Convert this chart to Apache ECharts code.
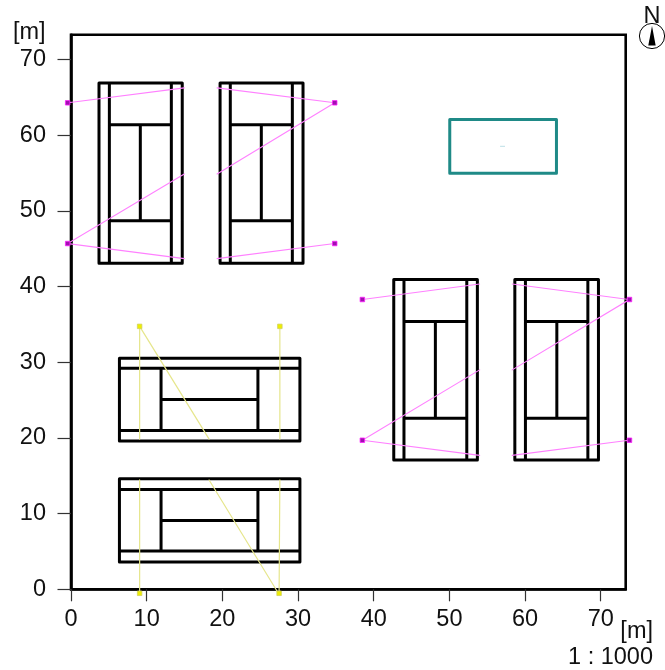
<!DOCTYPE html>
<html><head><meta charset="utf-8">
<style>html,body{margin:0;padding:0;background:#fff}#c{width:665px;height:670px}</style>
<script src="https://cdn.jsdelivr.net/npm/echarts@6/dist/echarts.min.js"></script>
</head><body><div id="c"></div>
<script>
const axisTicks = [0,10,20,30,40,50,60,70];
const axisMax = 73.3;
// vertical courts: xLeft, xSingleL, xCentre, xSingleR, xRight, yBottom, yServeLow, yServeHigh, yTop
const verticalCourts = [
  [3.7,5.07,9.16,13.26,14.7,43.1,48.7,61.4,66.9],
  [19.7,21.05,25.15,29.25,30.66,43.1,48.7,61.4,66.9],
  [42.65,44.0,48.15,52.3,53.7,17.1,22.6,35.4,40.95],
  [58.65,60.05,64.2,68.3,69.7,17.1,22.6,35.4,40.95]
];
// horizontal courts: xLeft, xServeL, xServeR, xRight, yBottom, ySingleLow, yCentre, ySingleHigh, yTop
const horizontalCourts = [
  [6.4,11.9,24.7,30.25,19.6,21.0,25.1,29.2,30.55],
  [6.4,11.9,24.7,30.25,3.6,5.05,9.1,13.2,14.6]
];
const tealBox = [[50.05,55.0],[64.15,55.0],[64.15,62.1],[50.05,62.1],[50.05,55.0]];
const tealDash = [[56.75,58.55],[57.3,58.55]];
const pinkRays = [
  [[-0.44,64.3],[14.97,66.27]], [[-0.44,45.7],[14.97,54.9]], [[-0.44,45.7],[14.97,43.7]],
  [[19.3,66.27],[34.85,64.3]], [[19.3,54.9],[34.85,64.3]], [[19.3,43.7],[34.85,45.7]],
  [[38.5,38.3],[54.0,40.35]], [[38.5,19.7],[54.0,29.0]], [[38.5,19.7],[54.0,17.7]],
  [[58.3,40.35],[73.8,38.3]], [[58.3,29.0],[73.8,38.3]], [[58.3,17.7],[73.8,19.7]]
];
const pinkPoints = [[-0.44,64.3],[-0.44,45.7],[34.85,64.3],[34.85,45.7],[38.5,38.3],[38.5,19.7],[73.8,38.3],[73.8,19.7]];
const yellowRays = [
  [[9.07,34.75],[9.07,19.85]], [[27.6,34.75],[27.6,19.85]], [[9.07,34.75],[18.25,19.85]],
  [[9.07,14.45],[9.07,-0.53]], [[27.6,14.45],[27.5,-0.53]], [[18.25,14.45],[27.4,-0.53]]
];
const yellowPoints = [[9.07,34.75],[27.6,34.75],[9.07,-0.53],[27.5,-0.53]];

const GAP = [NaN, NaN];
function join(paths){ const o=[]; paths.forEach(p=>{o.push(...p,GAP)}); return o; }
function rect(x0,y0,x1,y1){ return [[x0,y0],[x1,y0],[x1,y1],[x0,y1],[x0,y0]]; }
const courtPaths = [];
verticalCourts.forEach(([a,b,c,d,e,y0,y1,y2,y3])=>{
  courtPaths.push(rect(a,y0,e,y3),[[b,y0],[b,y3]],[[d,y0],[d,y3]],[[b,y1],[d,y1]],[[b,y2],[d,y2]],[[c,y1],[c,y2]]);
});
horizontalCourts.forEach(([a,b,c,d,y0,y1,y2,y3,y4])=>{
  courtPaths.push(rect(a,y0,d,y4),[[a,y1],[d,y1]],[[a,y3],[d,y3]],[[b,y1],[b,y3]],[[c,y1],[c,y3]],[[b,y2],[c,y2]]);
});
const FONT = '"Liberation Sans", Arial, sans-serif';
function lineSeries(data,color,width,z){
  return {type:'line',data,showSymbol:false,symbol:'none',clip:false,silent:true,z,connectNulls:false,
    lineStyle:{color,width,join:'round',cap:'round'},animation:false};
}
function pointSeries(data,color,border){
  return {type:'scatter',data,symbol:'rect',symbolSize:4.5,clip:false,silent:true,z:6,
    itemStyle:{color,borderColor:border,borderWidth:0.8,opacity:1},animation:false};
}
function axis(tickLen,labelMargin){
  return {type:'value',min:0,max:axisMax,splitLine:{show:false},
    axisLine:{show:true,onZero:false,lineStyle:{color:'#000',width:2.6}},
    axisTick:{show:true,customValues:axisTicks,length:tickLen,lineStyle:{color:'#333',width:1.2}},
    axisLabel:{customValues:axisTicks,fontFamily:FONT,fontSize:23.5,color:'#111',margin:labelMargin}};
}
const chart = echarts.init(document.getElementById('c'),null,{renderer:'canvas'});
const txt=(x,y,text,align)=>({type:'text',x,y,style:{text,font:'23.5px '+FONT,fill:'#111',align:align||'left',verticalAlign:'middle'},z:20});
chart.setOption({
  animation:false,backgroundColor:'#fff',
  grid:{left:71,top:34.7,width:554.7,height:554.6,show:true,borderColor:'#000',borderWidth:2.6,backgroundColor:'transparent',containLabel:false},
  xAxis:axis(12,18),yAxis:axis(13.5,25),
  series:[
    lineSeries(join(courtPaths),'#000',3,3),
    lineSeries(tealBox,'#1f8a87',3,3),
    lineSeries(tealDash,'#bcdfe6',1,3),
    lineSeries(join(pinkRays),'#ff80ff',1.1,4),
    lineSeries(join(yellowRays),'#e6e68c',1.2,4),
    pointSeries(pinkPoints,'#a010b0','#ff20ff'),
    pointSeries(yellowPoints,'#eeee00','#d0d060')
  ],
  graphic:[
    txt(13,33,'[m]'),
    txt(653,632,'[m]','right'),
    txt(653,658,'1 : 1000','right'),
    txt(652,17,'N','center'),
    {type:'circle',shape:{cx:652,cy:36,r:12.6},style:{fill:'#fff',stroke:'#000',lineWidth:1},z:19},
    {type:'polygon',shape:{points:[[652,26],[648.3,45.5],[655.7,45.5]]},style:{fill:'#000'},z:21}
  ]
});
</script></body></html>
